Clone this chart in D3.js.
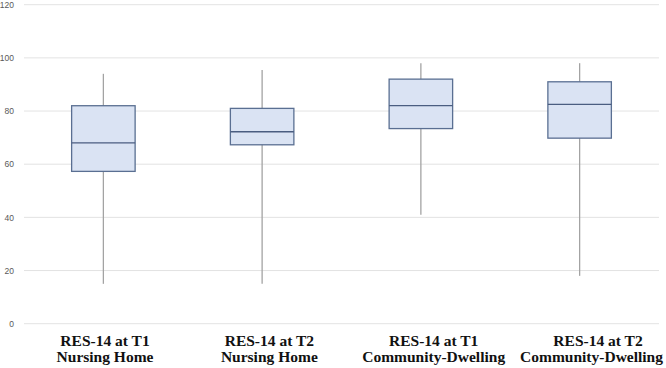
<!DOCTYPE html>
<html>
<head>
<meta charset="utf-8">
<script src="https://cdn.jsdelivr.net/npm/d3@7"></script>
<style>
  body { margin: 0; background: #fff; }
  .grid line { stroke: #e3e3e3; stroke-width: 1; }
  .yaxis text { fill: #595959; font-family: "Liberation Sans", Arial, sans-serif; font-size: 8.5px; }
  .xlab { font-family: "Liberation Serif", "Times New Roman", serif; font-weight: bold; font-size: 15.5px; fill: #111; }
</style>
</head>
<body>
<div id="chart"></div>
<script>
var categories = ["T1 Nursing Home", "T2 Nursing Home", "T1 Community-Dwelling", "T2 Community-Dwelling"]
var labelLine1 = ["RES-14 at T1", "RES-14 at T2", "RES-14 at T1", "RES-14 at T2"]
var labelLine2 = ["Nursing Home", "Nursing Home", "Community-Dwelling", "Community-Dwelling"]
var mins    = [15, 15, 41, 18]
var q1s     = [57.3, 67.3, 73.4, 69.8]
var medians = [68, 72.2, 82, 82.5]
var q3s     = [82, 81, 92, 91]
var maxs    = [94, 95.4, 98, 98]
var yTicks  = [0, 20, 40, 60, 80, 100, 120]

var width = 666, height = 368
var margin = { top: 5, bottom: 45, left: 24, right: 7 }

var svg = d3.select("#chart")
  .append("svg")
  .attr("width", width)
  .attr("height", height)

var x = d3.scaleBand()
  .domain(categories)
  .range([margin.left, width - margin.right])

var y = d3.scaleLinear()
  .domain([0, 120])
  .range([height - margin.bottom + 0.7, margin.top - 0.3])

// gridlines
svg.append("g")
  .attr("class", "grid")
  .selectAll("line")
  .data(yTicks)
  .enter()
  .append("line")
  .attr("x1", margin.left)
  .attr("x2", width - margin.right)
  .attr("y1", function(d) { return y(d) })
  .attr("y2", function(d) { return y(d) })

// y tick labels
var yAxis = svg.append("g")
  .attr("class", "yaxis")
  .attr("transform", "translate(14,0)")
  .call(d3.axisLeft(y).tickValues(yTicks).tickSize(0).tickPadding(0))
yAxis.select(".domain").remove()

var boxW = x.bandwidth() * 0.4

var boxes = svg.selectAll(".box")
  .data(categories)
  .enter()
  .append("g")
  .attr("class", "box")
  .attr("transform", function(d) { return "translate(" + (x(d) + x.bandwidth() / 2) + ",0)" })

// whisker
boxes.append("line")
  .attr("x1", 0).attr("x2", 0)
  .attr("y1", function(d, i) { return y(maxs[i]) })
  .attr("y2", function(d, i) { return y(mins[i]) })
  .attr("stroke", "#a3a3a3")
  .attr("stroke-width", 1.3)

boxes.append("rect")
  .attr("x", -boxW / 2)
  .attr("width", boxW)
  .attr("y", function(d, i) { return y(q3s[i]) })
  .attr("height", function(d, i) { return y(q1s[i]) - y(q3s[i]) })
  .attr("fill", "#dae3f3")
  .attr("stroke", "#5a6f92")
  .attr("stroke-width", 1.3)

boxes.append("line")
  .attr("x1", -boxW / 2).attr("x2", boxW / 2)
  .attr("y1", function(d, i) { return y(medians[i]) })
  .attr("y2", function(d, i) { return y(medians[i]) })
  .attr("stroke", "#4a5d80")
  .attr("stroke-width", 1.3)

// category labels (slightly spread relative to the boxes, as in the original)
var xl = d3.scalePoint()
  .domain(categories)
  .range([105, 598])

var labels = svg.selectAll(".xlab")
  .data(categories)
  .enter()
  .append("text")
  .attr("class", "xlab")
  .attr("text-anchor", "middle")
  .attr("transform", function(d) { return "translate(" + xl(d) + ",346)" })
labels.append("tspan")
  .attr("x", 0).attr("y", 0)
  .text(function(d, i) { return labelLine1[i] })
labels.append("tspan")
  .attr("x", 0).attr("y", 16.3)
  .text(function(d, i) { return labelLine2[i] })

// nudge any line that would run past the right edge back inside
labels.selectAll("tspan").each(function() {
  var cx = xl(d3.select(this.parentNode).datum())
  var w = this.getComputedTextLength()
  var over = cx + w / 2 - (width - 3)
  if (over > 0) d3.select(this).attr("x", -over)
})
</script>
</body>
</html>
